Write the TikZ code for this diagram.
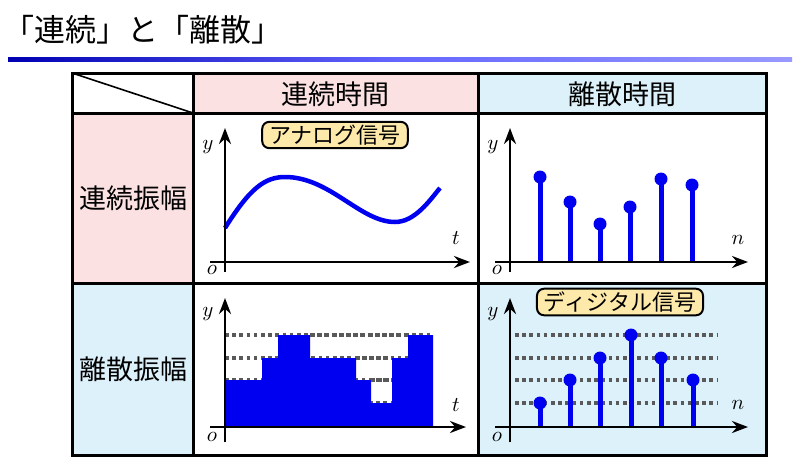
\documentclass[tikz,border=0pt]{standalone}
\usepackage{fontspec}
\newfontfamily\cjk{Noto Sans CJK JP}
\usetikzlibrary{arrows.meta,calc}
\definecolor{pinkc}{HTML}{FBE1E1}
\definecolor{bluec}{HTML}{DDF1FB}
\definecolor{badge}{HTML}{FDE9A9}
\definecolor{sig}{HTML}{0000F0}
\begin{document}
\begin{tikzpicture}[x=1pt,y=-1pt,
 axis/.style={line width=2.6pt,-{Stealth[length=16pt,width=12pt]}},
 lev/.style={gray!70!black,line width=3.8pt,dash pattern=on 3.6pt off 3.6pt},
 stem/.style={sig,line width=5pt},
 dotc/.style={sig,fill=sig,circle,inner sep=0pt,minimum size=13pt},
 badgebox/.style={draw,line width=2pt,fill=badge,rounded corners=7pt,font=\cjk\fontsize{22}{22}\selectfont,inner xsep=7pt,inner ysep=3pt},
 lbl/.style={font=\cjk\fontsize{27}{27}\selectfont},
 mathl/.style={scale=2.1,inner sep=0pt}]
\useasboundingbox (0,0) rectangle (800,463);
\node[anchor=west,font=\cjk\fontsize{31}{31}\selectfont] (title) at (0,30) {「連続」と「離散」};
\shade[left color=blue!70!black,right color=blue!40,middle color=blue!60] (8,57) rectangle (792,61);
% fills
\fill[pinkc] (193,73) rectangle (478,113);
\fill[bluec] (478,73) rectangle (766,113);
\fill[pinkc] (72,113) rectangle (193,283);
\fill[bluec] (72,283) rectangle (193,455);
\fill[bluec] (478,283) rectangle (766,455);
% grid
\draw[line width=3pt] (72,73) rectangle (766,455);
\draw[line width=3pt] (193,73) -- (193,455) (478,73) -- (478,455) (72,113) -- (766,113) (72,283) -- (766,283);
\draw[line width=1.6pt] (72,73) -- (193,113);
\node[lbl] (h1) at (335,94) {連続時間};
\node[lbl] (h2) at (622,94) {離散時間};
\node[lbl] (r1) at (133,198) {連続振幅};
\node[lbl] (r2) at (133,369) {離散振幅};
% top-left
\draw[sig,line width=4.5pt] (225,228) .. controls (250,188) and (265,177) .. (285,177) .. controls (330,177) and (360,222) .. (395,222) .. controls (415,222) and (430,200) .. (440,188);
\draw[axis] (210,262) -- (470,262);
\draw[axis] (225,272) -- (225,128);
\node[mathl] (y1) at (208,147) {$y$};
\node[mathl] (o1) at (212,270) {$o$};
\node[mathl] (t1) at (456,238) {$t$};
\node[badgebox] (b1) at (335,135) {アナログ信号};
% top-right
\foreach \x/\t in {540/177,570/202,600/224,630/207,661/179,692/185}{
 \draw[stem] (\x,262) -- (\x,\t); \node[dotc] at (\x,\t) {};}
\draw[axis] (495,262) -- (748,262);
\draw[axis] (510,272) -- (510,128);
\node[mathl] (y2) at (493,147) {$y$};
\node[mathl] (o2) at (497,270) {$o$};
\node[mathl] (n2) at (738,240) {$n$};
% bottom-left
\foreach \yy in {335,358,380,403} \draw[lev] (225,\yy) -- (433,\yy);
\fill[sig] (225,427) -- (225,380) -- (262,380) -- (262,358) -- (278,358) -- (278,335) -- (310,335) -- (310,358) -- (356,358) -- (356,380) -- (371,380) -- (371,403) -- (392,403) -- (392,358) -- (408,358) -- (408,335) -- (433,335) -- (433,427) -- cycle;
\foreach \yy/\a/\b in {335/225/278,335/310/408,358/225/262,358/356/392,380/371/392}
 \draw[lev] (\a,\yy) -- (\b,\yy);
\draw[axis] (210,427) -- (466,427);
\draw[axis] (225,442) -- (225,298);
\node[mathl] (y3) at (208,314) {$y$};
\node[mathl] (o3) at (212,437) {$o$};
\node[mathl] (t3) at (456,405) {$t$};
% bottom-right
\foreach \yy in {335,358,380,403} \draw[lev] (515,\yy) -- (717,\yy);
\foreach \x/\t in {540/403,570/380,600/358,631/335,661/358,693/380}{
 \draw[stem] (\x,427) -- (\x,\t); \node[dotc] at (\x,\t) {};}
\draw[axis] (495,427) -- (748,427);
\draw[axis] (510,442) -- (510,298);
\node[mathl] (y4) at (493,314) {$y$};
\node[mathl] (o4) at (497,437) {$o$};
\node[mathl] (n4) at (738,405) {$n$};
\node[badgebox] (b2) at (620,302) {ディジタル信号};
\end{tikzpicture}
\end{document}
